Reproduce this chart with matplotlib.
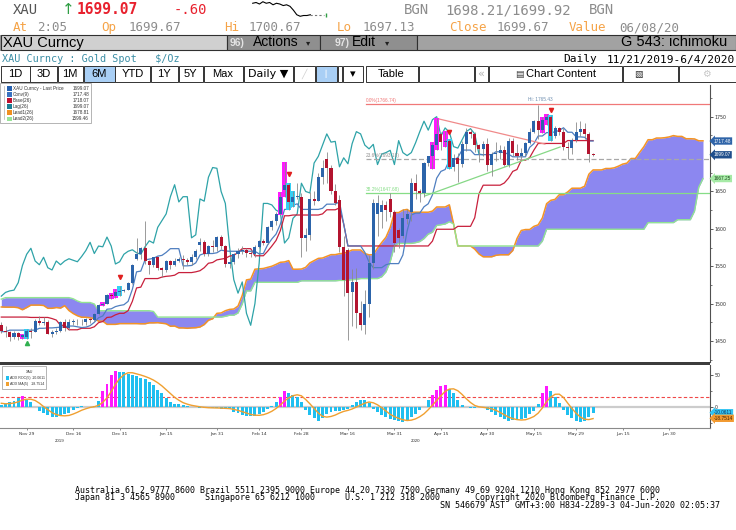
import matplotlib
matplotlib.use("Agg")
import matplotlib.pyplot as plt
import numpy as np
import pandas as pd
from matplotlib.patches import Rectangle
from matplotlib.transforms import blended_transform_factory

# ---------------- data ----------------
# history before the visible window (Aug 5 - Nov 20 2019), highs / lows only
pre_high = [1475, 1475, 1508, 1510, 1507, 1512, 1535, 1521, 1525, 1524,
            1512, 1510, 1510, 1505, 1527, 1555, 1542, 1546, 1541, 1530,
            1530, 1547, 1557, 1553, 1526, 1511, 1500, 1502, 1517, 1501,
            1512, 1506, 1511, 1507, 1518, 1527, 1535, 1533, 1511, 1510, 1498,
            1482, 1502, 1510, 1514, 1506, 1507, 1513, 1510, 1499, 1498,
            1499, 1496, 1497, 1496, 1494, 1490, 1496, 1505, 1518, 1507,
            1496, 1498, 1514,
            1517, 1514, 1510, 1496, 1496, 1469, 1461, 1466, 1469, 1474,
            1477, 1477, 1475, 1479]
pre_low = [1440, 1455, 1473, 1490, 1493, 1492, 1480, 1496, 1509, 1505,
           1492, 1493, 1496, 1492, 1493, 1519, 1522, 1532, 1521, 1516,
           1518, 1524, 1538, 1506, 1504, 1494, 1485, 1484, 1487, 1488,
           1494, 1494, 1491, 1490, 1497, 1514, 1520, 1502, 1496, 1488, 1465,
           1459, 1476, 1496, 1498, 1491, 1491, 1501, 1492, 1474, 1486,
           1480, 1481, 1484, 1485, 1480, 1480, 1486, 1490, 1501, 1488,
           1484, 1485, 1492,
           1503, 1502, 1481, 1479, 1464, 1456, 1450, 1446, 1455, 1463,
           1466, 1466, 1467, 1467]

# visible daily bars, Nov 21 2019 - Jun 4 2020
opens = [1472, 1464, 1462, 1455, 1461, 1455, 1456, 1464, 1462, 1477,
         1474, 1476, 1460, 1462, 1464, 1475, 1468, 1476, 1476, 1475,
         1475, 1479, 1478, 1486, 1498, 1500, 1511, 1510, 1515, 1517,
         1518, 1528, 1560, 1566, 1574, 1557, 1552, 1562, 1548, 1545,
         1557, 1552, 1557, 1560, 1558, 1556, 1563, 1578, 1582, 1567,
         1577, 1576, 1589, 1577, 1553, 1556, 1566, 1570, 1572, 1568,
         1566, 1576, 1584, 1581, 1602, 1611, 1620, 1652, 1659, 1636,
         1643, 1643, 1588, 1592, 1640, 1637, 1669, 1694, 1681, 1650,
         1639, 1576, 1572, 1516, 1529, 1487, 1471, 1500, 1554, 1620,
         1622, 1632, 1640, 1622, 1598, 1590, 1613, 1623, 1661, 1650,
         1648, 1688, 1697, 1712, 1727, 1716, 1717, 1683, 1695, 1687,
         1714, 1730, 1727, 1712, 1707, 1713, 1686, 1700, 1702, 1705,
         1686, 1718, 1702, 1698, 1702, 1715, 1730, 1744, 1732, 1746,
         1750, 1724, 1735, 1729, 1710, 1708, 1719, 1730, 1734, 1727,
         1700]
highs = [1475, 1470, 1463, 1463, 1462, 1459, 1466, 1467, 1479, 1484,
         1482, 1478, 1465, 1467, 1477, 1479, 1480, 1479, 1480, 1479,
         1481, 1481, 1488, 1499, 1502, 1513, 1514, 1520, 1523, 1520,
         1529, 1553, 1588, 1576, 1611, 1558, 1563, 1563, 1549, 1558,
         1558, 1561, 1563, 1565, 1561, 1566, 1573, 1588, 1585, 1578,
         1585, 1590, 1592, 1578, 1562, 1568, 1575, 1577, 1574, 1572,
         1578, 1585, 1586, 1604, 1612, 1623, 1649, 1689, 1661, 1651,
         1661, 1648, 1601, 1649, 1651, 1675, 1692, 1703, 1686, 1660,
         1645, 1590, 1575, 1546, 1547, 1504, 1518, 1565, 1640, 1645,
         1638, 1637, 1648, 1625, 1601, 1626, 1627, 1668, 1673, 1653,
         1690, 1698, 1716, 1747.70, 1730, 1731, 1720, 1700, 1701, 1717,
         1735.47, 1733, 1729, 1714, 1718, 1721, 1703, 1716, 1712, 1711,
         1722, 1722, 1714, 1708, 1716, 1735, 1745, 1765.43, 1749, 1753,
         1752, 1738, 1736, 1735, 1716, 1721, 1743, 1744.89, 1742, 1729,
         1701]
lows = [1461, 1456, 1450, 1452, 1451, 1452, 1453, 1454, 1462, 1472,
        1472, 1459, 1456, 1460, 1462, 1463, 1465, 1472, 1472, 1472,
        1472, 1474, 1477, 1485, 1497, 1499, 1506, 1508, 1510, 1516,
        1518, 1526, 1558, 1559, 1553, 1540, 1549, 1545, 1536, 1542,
        1546, 1550, 1556, 1546, 1551, 1552, 1560, 1570, 1564, 1564,
        1569, 1571, 1573, 1549, 1548, 1553, 1561, 1566, 1563, 1563,
        1563, 1574, 1578, 1580, 1598, 1605, 1618, 1642, 1625, 1629,
        1640, 1563, 1571, 1585, 1632, 1637, 1660, 1661, 1646, 1632,
        1569.5, 1510, 1451.22, 1470, 1467, 1465, 1459, 1482, 1546, 1591,
        1601, 1610, 1616, 1569.07, 1575, 1588, 1606, 1611, 1640, 1636,
        1643, 1684, 1680, 1706, 1706, 1709, 1680, 1677, 1663, 1683,
        1704, 1722, 1703, 1690, 1697, 1678, 1670.71, 1691, 1693, 1684,
        1683, 1697, 1692, 1694, 1698, 1713, 1728, 1720, 1728, 1739,
        1718, 1722, 1726, 1705, 1693, 1700, 1716, 1724, 1720, 1690.07,
        1697.13]
closes = [1464, 1462, 1455, 1461, 1455, 1458, 1464, 1462, 1477, 1474,
          1476, 1460, 1462, 1464, 1475, 1468, 1476, 1476, 1475, 1475,
          1479, 1478, 1486, 1498, 1500, 1511, 1510, 1515, 1517, 1518,
          1528, 1551, 1566, 1574, 1557, 1552, 1562, 1548, 1545, 1557,
          1552, 1557, 1560, 1558, 1556, 1563, 1571, 1582, 1567, 1577,
          1576, 1589, 1577, 1553, 1556, 1566, 1570, 1572, 1568, 1566,
          1576, 1584, 1581, 1602, 1611, 1620, 1643, 1659, 1636, 1643,
          1643, 1588, 1592, 1640, 1637, 1669, 1682, 1681, 1650, 1634,
          1576, 1532, 1514, 1529, 1487, 1471, 1500, 1554, 1634, 1634,
          1632, 1625, 1622, 1581, 1588, 1614, 1620, 1661, 1650, 1648,
          1688, 1697, 1712, 1727, 1716, 1717, 1683, 1695, 1687, 1714,
          1730, 1727, 1712, 1707, 1713, 1686, 1700, 1702, 1705, 1686,
          1718, 1702, 1698, 1702, 1715, 1730, 1744, 1732, 1746, 1750,
          1724, 1735, 1729, 1710, 1708, 1719, 1730, 1734, 1727, 1700,
          1699.07]

hl_magenta = [5, 24, 26, 27, 66, 67, 102, 103, 105, 128, 129]
hl_cyan = [6, 28, 68, 69, 106, 130]
sig_down_idx = [28, 68, 106, 130]
sig_down_price = [1535, 1673, 1729, 1759]
sig_up_idx = [6]
sig_up_price = [1447]

fib_levels = [1766.74, 1693.18, 1647.68]
fib_labels = ["0.0%(1766.74)", "23.6%(1693.18)", "38.2%(1647.68)"]
fib_start = 86.3
trend_red_x, trend_red_y = [103, 128.6], [1747.7, 1713.4]
trend_green_x, trend_green_y = [100.2, 132.2], [1644, 1709.5]

price_ticks = [1450, 1500, 1550, 1600, 1650, 1700, 1750]
price_tick_labels = ["1450", "1500", "1550", "1600", "1650", "", "1750"]

date_idx = [6, 17, 28, 39, 51, 61, 71, 82, 93, 104, 115, 126, 136, 147, 158]
date_labels = ["Nov 29", "Dec 16", "Dec 31", "Jan 15", "Jan 31", "Feb 14",
               "Feb 28", "Mar 16", "Mar 31", "Apr 15", "Apr 30", "May 15",
               "May 29", "Jun 15", "Jun 30"]
year_idx = [13.8, 98]
year_labels = ["2019", "2020"]

roc_pre = [8, 6, 5, 5]
roc = [3, 4, 8, 9, 14, 17, 11, 8, -1, -7,
       -10, -13, -16, -16, -15, -12, -10, -5, -2, 1,
       0, 0, 1, 9, 24, 36, 50, 57, 55, 54,
       52, 50, 48, 46, 43, 39, 34, 27, 21, 13,
       8, 5, 4, 2, 1, -1, -1, -2, -2, -2,
       -2, -2, -3, -4, -4, -8, -10, -13, -15, -15,
       -14, -11, -8, -4, 1, 8, 16, 24, 21, 18,
       15, 8, -5, -13, -18, -22, -18, -11, -8, -7,
       -6, -5, -3, 3, 8, 10, 10, 6, -3, -8,
       -13, -16, -20, -21, -22, -24, -22, -17, -11, -5,
       -1, 10, 19, 26, 32, 34, 28, 21, 11, 3,
       0, -2, -2, 0, -1, -5, -9, -13, -17, -20,
       -23, -21, -21, -20, -18, -12, -6, 5, 21, 32,
       24, 16, 6, -5, -13, -18, -22, -24, -22, -15.7,
       -10.0611]
roc_magenta = [5, 24, 25, 26, 27, 66, 67, 102, 103, 104, 105, 128, 129]

spark = [1700.4, 1700.5, 1700.3, 1700.6, 1700.4, 1700.5, 1700.2, 1700.4,
         1700.3, 1700.1, 1700.2, 1700.0, 1699.5, 1698.9, 1698.7, 1698.8,
         1698.8, 1698.9]

footer_lines = [
    "Australia 61 2 9777 8600 Brazil 5511 2395 9000 Europe 44 20 7330 7500 "
    "Germany 49 69 9204 1210 Hong Kong 852 2977 6000",
    "Japan 81 3 4565 8900      Singapore 65 6212 1000      U.S. 1 212 318 2000"
    "       Copyright 2020 Bloomberg Finance L.P.",
    " " * 73 + "SN 546679 AST  GMT+3:00 H834-2289-3 04-Jun-2020 02:05:37",
]

# ---------------- computed indicators ----------------
n_pre = len(pre_high)
hs = pd.Series(pre_high + highs, dtype=float)
ls = pd.Series(pre_low + lows, dtype=float)
conv_all = (hs.rolling(9).max() + ls.rolling(9).min()) / 2
base_all = (hs.rolling(26).max() + ls.rolling(26).min()) / 2
span1_all = (conv_all + base_all) / 2
span2_all = (hs.rolling(52).max() + ls.rolling(52).min()) / 2
idx_all = np.arange(len(hs)) - n_pre

nv = len(closes)
xv = np.arange(nv)
conv = conv_all.values[n_pre:]
base = base_all.values[n_pre:]
lead_x = idx_all + 26
mask = (lead_x >= 0) & (lead_x <= nv - 1 + 26)
lead_x = lead_x[mask]
lead1 = span1_all.values[mask]
lead2 = span2_all.values[mask]
lag_x = xv[:nv - 26]
lag_y = np.array(closes[26:])

roc_ma = pd.Series(roc_pre + roc, dtype=float).rolling(5).mean().values[len(roc_pre):]

# ---------------- figure ----------------
W, H = 736, 530
fig = plt.figure(figsize=(W / 100, H / 100), dpi=100)
fig.patch.set_facecolor("white")
MONO = "DejaVu Sans Mono"
SANS = "Liberation Sans"


def fx(x):
    return x / W


def fy(y):
    return 1 - y / H


def T(x, y, s, **kw):
    kw.setdefault("va", "center")
    return fig.text(fx(x), fy(y), s, **kw)


def R(x0, y0, x1, y1, fc, ec="none", lw=0.6, z=0.5):
    r = Rectangle((fx(x0), fy(y1)), (x1 - x0) / W, (y1 - y0) / H,
                  transform=fig.transFigure, fc=fc, ec=ec, lw=lw, zorder=z)
    fig.add_artist(r)
    return r


def L(x0, y0, x1, y1, color, lw=0.8, z=1):
    fig.add_artist(plt.Line2D([fx(x0), fx(x1)], [fy(y0), fy(y1)],
                              transform=fig.transFigure, color=color, lw=lw, zorder=z))


ORANGE_T = "#f5a347"
GREY_T = "#8c8c8c"

# row 1
T(13, 10, "XAU", color="#555555", family=MONO, fontsize=10)
T(62, 10, "\u2191", color="#2f9e44", family="DejaVu Sans", fontsize=11)
T(77, 10, "1699.07", color="#e8212e", family=MONO, fontsize=10.5, weight="bold")
T(174, 10, "-.60", color="#e8212e", family=MONO, fontsize=10)
T(404, 10, "BGN", color=GREY_T, family=MONO, fontsize=10)
T(445, 10, "1698.21/1699.92", color=GREY_T, family=MONO, fontsize=10)
T(589, 10, "BGN", color=GREY_T, family=MONO, fontsize=10)

sax = fig.add_axes([fx(251), fy(17), 78 / W, 16 / H])
sax.plot(range(len(spark)), spark, color="black", lw=0.8)
sax.plot([len(spark) - 1, len(spark) + 3], [spark[-1], spark[-1]], color="#777777",
         lw=0.8, ls=(0, (2, 2)))
sax.plot([len(spark) + 3.5], [spark[-1]], marker="|", color="#2f9e44", ms=3)
sax.set_xlim(-0.5, len(spark) + 4.5)
sax.axis("off")

# row 2
row2 = [(13, "At", ORANGE_T), (37, "2:05", GREY_T), (101, "Op", ORANGE_T),
        (129, "1699.67", GREY_T), (224, "Hi", ORANGE_T), (249, "1700.67", GREY_T),
        (337, "Lo", ORANGE_T), (363, "1697.13", GREY_T), (449, "Close", ORANGE_T),
        (497, "1699.67", GREY_T), (569, "Value", ORANGE_T), (619, "06/08/20", GREY_T)]
for xx, s, c in row2:
    T(xx, 27.7, s, color=c, family=MONO, fontsize=9)

# command bar
R(0, 34.5, 736, 50.5, "#9a9a9a", z=0.5)
R(0.5, 35, 227, 50, "#d0d0d0", ec="#303030", lw=0.8, z=0.6)
R(227, 35, 320, 50, "#8f8f8f", ec="#303030", lw=0.8, z=0.6)
R(320, 35, 417, 50, "#8f8f8f", ec="#303030", lw=0.8, z=0.6)
R(417, 35, 736, 50, "#a2a2a2", ec="#303030", lw=0.8, z=0.6)
T(3, 42.5, "XAU Curncy", color="black", family=SANS, fontsize=10.5)
T(230, 42.5, "96)", color="#e4e4e4", family=SANS, fontsize=7.5, weight="bold")
T(253, 42.5, "Actions", color="black", family=SANS, fontsize=10)
T(306, 43, "\u25be", color="#202020", family="DejaVu Sans", fontsize=6)
T(335, 42.5, "97)", color="#e4e4e4", family=SANS, fontsize=7.5, weight="bold")
T(352, 42.5, "Edit", color="black", family=SANS, fontsize=10)
T(385, 43, "\u25be", color="#202020", family="DejaVu Sans", fontsize=6)
T(727, 42.5, "G 543: ichimoku", color="black", family=SANS, fontsize=10.5, ha="right")

# title row
T(2, 59.5, "XAU Curncy : Gold Spot   $/Oz", color="#3b8ea5", family=MONO, fontsize=7.3)
T(563, 59.5, "Daily", color="black", family=MONO, fontsize=8)
T(607, 59.5, "11/21/2019-6/4/2020", color="black", family=MONO, fontsize=8)

# button row
buttons = [(0, 30, "1D"), (30, 57, "3D"), (57, 83, "1M"), (83, 115, "6M"),
           (115, 150, "YTD"), (150, 178, "1Y"), (178, 203, "5Y"), (203, 243, "Max"),
           (243, 293, "Daily \u25bc"), (293, 315, ""), (315, 337, ""), (337, 342, ""),
           (342, 363, "\u25be"), (365, 418, "Table"), (418, 474, ""), (474, 488, "\u00ab"),
           (488, 622, "Chart Content"), (622, 678, ""), (678, 735.5, "")]
for x0, x1, lab in buttons:
    fc = "#a9cff5" if lab == "6M" or x0 == 315 else "white"
    R(x0 + 0.5, 66, x1, 81.5, fc, ec="#333333", lw=0.7, z=0.6)
    if lab:
        col = "#b0b0b0" if lab == "\u00ab" else "black"
        fam = ["DejaVu Sans"] if "\u25bc" in lab or "\u25be" in lab or lab == "\u00ab" else [SANS, "DejaVu Sans"]
        T((x0 + x1) / 2 + (6 if lab == "Chart Content" else 0), 74, lab, color=col,
          family=fam, fontsize=8, ha="center")
T(519, 74, "\u25a4", color="#404040", family="DejaVu Sans", fontsize=6.5, ha="center")
T(304, 74, "\u2571", color="#d0d0d0", family="DejaVu Sans", fontsize=6.5, ha="center")
T(326, 74, "\u2503", color="#e8f2fc", family="DejaVu Sans", fontsize=5, ha="center")
T(638, 74, "\u25a7", color="#303030", family="DejaVu Sans", fontsize=6.5, ha="center")
T(706, 74, "\u2699", color="#c8c8c8", family="DejaVu Sans", fontsize=7, ha="center")

# ---------------- main chart ----------------
ax = fig.add_axes([0, fy(362), 710 / W, (362 - 85) / H])
ax.set_xlim(-0.31, 167.66)
ax.set_ylim(1421.9, 1792.4)
for s in ["left", "top", "bottom"]:
    ax.spines[s].set_visible(False)
ax.spines["right"].set_color("#505050")
ax.spines["right"].set_linewidth(0.8)
ax.yaxis.tick_right()
ax.set_yticks(price_ticks)
ax.set_yticklabels(price_tick_labels)
ax.set_yticks(np.arange(1425, 1800, 25), minor=True)
ax.tick_params(axis="y", which="major", direction="out", length=2, width=0.6,
               color="#404040", labelsize=3.4, pad=1.5, labelcolor="#303030")
ax.tick_params(axis="y", which="minor", direction="out", length=1.2, width=0.5, color="#404040")
ax.set_xticks([])

CLOUD = "#8c87f0"
ax.fill_between(lead_x, lead1, lead2, color=CLOUD, lw=0, zorder=1)
ax.plot(lead_x, lead1, color="#f49424", lw=1.1, zorder=2)
ax.plot(lead_x, lead2, color="#92e492", lw=1.0, zorder=2)
ax.plot(lag_x, lag_y, color="#2ea3a8", lw=0.9, zorder=2)
ax.plot(xv, base, color="#c8203c", lw=0.9, zorder=2)
ax.plot(xv, conv, color="#4f7fc0", lw=0.9, zorder=2)

fib_cols = ["#f07878", "#a8a8a8", "#86dd86"]
fib_ls = ["-", (0, (4, 2)), "-"]
for lev, lab, c, lsy in zip(fib_levels, fib_labels, fib_cols, fib_ls):
    ax.plot([fib_start, 167.66], [lev, lev], color=c, lw=0.9, ls=lsy, zorder=2)
    ax.text(fib_start, lev + 1.5, lab, color=c if c != "#a8a8a8" else "#909090",
            fontsize=3.4, family=SANS, va="bottom", ha="left", zorder=3)
ax.plot(trend_red_x, trend_red_y, color="#f08a8a", lw=0.9, zorder=2)
ax.plot(trend_green_x, trend_green_y, color="#86d886", lw=0.9, zorder=2)
ax.text(127.5, 1770, "Hi: 1765.43", color="#6f8fb0", fontsize=3.4, family=SANS,
        ha="center", va="bottom", zorder=3)

o = np.array(opens, float)
h = np.array(highs, float)
l = np.array(lows, float)
c = np.array(closes, float)
ax.bar(hl_magenta, h[hl_magenta] - l[hl_magenta], bottom=l[hl_magenta], width=1.15,
       color="#ff1aff", zorder=3)
ax.bar(hl_cyan, h[hl_cyan] - l[hl_cyan], bottom=l[hl_cyan], width=1.15,
       color="#33d0f5", zorder=3)
ax.vlines(xv, l, h, color="#8a8a8a", lw=0.6, zorder=4)
up = c >= o
bb = np.minimum(o, c)
bh = np.maximum(np.abs(c - o), 1.0)
ax.bar(xv[up], bh[up], bottom=bb[up], width=0.72, color="#2c64aa", zorder=5)
ax.bar(xv[~up], bh[~up], bottom=bb[~up], width=0.72, color="#b3142f", zorder=5)
ax.plot(sig_down_idx, sig_down_price, ls="none", marker="v", ms=3, color="#e02020", zorder=6)
ax.plot(sig_up_idx, sig_up_price, ls="none", marker="^", ms=3, color="#30b050", zorder=6)


def side_box(axis, val, text, fc, tc):
    axis.annotate(text, xy=(1.0, val), xycoords=("axes fraction", "data"),
                  xytext=(2.5, 0), textcoords="offset points", ha="left", va="center",
                  fontsize=3.4, family=SANS, color=tc, annotation_clip=False, zorder=10,
                  bbox=dict(boxstyle="larrow,pad=0.25", fc=fc, ec="none"))


side_box(ax, 1717.48, "1717.48", "#2f64a8", "white")
side_box(ax, 1699.07, "1699.07", "#1f4e8c", "white")
side_box(ax, 1667.25, "1667.25", "#a6eaa6", "#1e4a1e")

# main legend
R(0, 83, 91, 123, "white", ec="#a8a8a8", lw=0.6, z=5)
L(4, 86, 4, 119, "#b0b0b0", lw=0.5, z=6)
leg_items = [("XAU Curncy - Last Price", "1699.07", "#2560b0"),
             ("Conv(9)", "1717.48", "#3a72c0"),
             ("Base(26)", "1718.07", "#c01030"),
             ("Lag(26)", "1699.07", "#1b7f95"),
             ("Lead1(26)", "1678.81", "#f09020"),
             ("Lead2(26)", "1599.46", "#98e498")]
for k, (name, val, col) in enumerate(leg_items):
    yy = 88.3 + k * 6.1
    R(7, yy - 2.2, 11.5, yy + 2.2, col, z=6)
    T(13, yy, name, color="#333333", family=SANS, fontsize=3.3, zorder=7)
    T(89, yy, val, color="#333333", family=SANS, fontsize=3.3, ha="right", zorder=7)

# separator between panels
R(0, 361.8, 710, 364.6, "#3c3c3c", z=4)

# ---------------- lower panel ----------------
ax2 = fig.add_axes([0, fy(428), 710 / W, (428 - 365) / H])
ax2.set_xlim(-0.31, 167.66)
ax2.set_ylim(-33.6, 65.8)
for s in ["left", "top"]:
    ax2.spines[s].set_visible(False)
ax2.spines["right"].set_color("#505050")
ax2.spines["right"].set_linewidth(0.8)
ax2.spines["bottom"].set_color("#8a8a8a")
ax2.spines["bottom"].set_linewidth(0.8)
ax2.yaxis.tick_right()
ax2.set_yticks([0, 50])
ax2.set_yticklabels(["0", "50"])
ax2.set_yticks([-25, 25], minor=True)
ax2.tick_params(axis="y", which="major", direction="out", length=2, width=0.6,
                color="#404040", labelsize=3.4, pad=1.5, labelcolor="#303030")
ax2.tick_params(axis="y", which="minor", direction="out", length=1.2, width=0.5, color="#404040")
ax2.set_xticks(date_idx)
ax2.set_xticklabels(date_labels)
ax2.tick_params(axis="x", direction="out", length=1.5, width=0.5, color="#606060",
                labelsize=3.2, pad=1.2, labelcolor="#303030")
trans = blended_transform_factory(ax2.transData, ax2.transAxes)
for xi, yl in zip(year_idx, year_labels):
    ax2.text(xi, -0.2, yl, transform=trans, fontsize=3.2, color="#303030",
             family=SANS, ha="center", va="center")

ax2.axhline(0, color="#cccccc", lw=1.6, zorder=1)
ax2.axhline(15, color="#f04848", lw=0.8, ls=(0, (3, 2)), zorder=1)
mset = set(roc_magenta)
bar_cols = ["#ff1aff" if i in mset else "#1fbff0" for i in range(len(roc))]
ax2.bar(np.arange(len(roc)), roc, width=0.7, color=bar_cols, zorder=2)
ax2.plot(np.arange(len(roc)), roc_ma, color="#f0a030", lw=1.0, zorder=3)
side_box(ax2, -9.5, "-10.0611", "#33c4f2", "#10305a")
side_box(ax2, -18.3, "-18.7514", "#f29a30", "#402000")

# lower legend
R(2, 366, 46, 389, "white", ec="#a8a8a8", lw=0.6, z=5)
T(30, 372, "XAU", color="#333333", family=SANS, fontsize=2.6, ha="center", zorder=7)
R(6.5, 375.8, 9.3, 379.6, "#1fbff0", z=6)
T(10.5, 377.7, "ADX ROC(5)", color="#333333", family=SANS, fontsize=2.6, zorder=7)
T(45.5, 377.7, "-10.0611", color="#333333", family=SANS, fontsize=2.6, ha="right", zorder=7)
R(6.5, 382.4, 9.3, 386.2, "#f0a030", z=6)
T(10.5, 384.3, "ADX MA(5)", color="#333333", family=SANS, fontsize=2.6, zorder=7)
T(45.5, 384.3, "-18.7514", color="#333333", family=SANS, fontsize=2.6, ha="right", zorder=7)

# ---------------- footer (one monospaced block) ----------------
T(75, 498, "\n".join(footer_lines), color="black", family=MONO, fontsize=6.0,
  linespacing=0.85, ha="left", va="center")

fig.savefig("out.png", dpi=100)
